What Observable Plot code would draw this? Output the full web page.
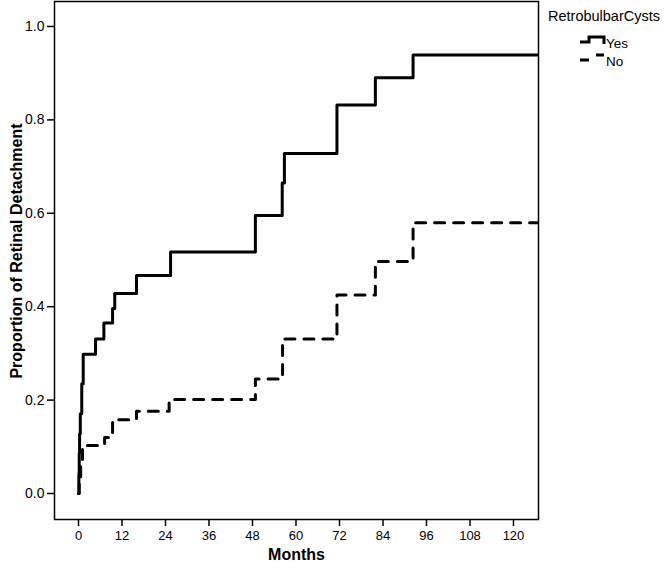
<!DOCTYPE html>
<html>
<head>
<meta charset="utf-8">
<script src="https://cdn.jsdelivr.net/npm/d3@7"></script>
<script src="https://cdn.jsdelivr.net/npm/@observablehq/plot@0.6"></script>
<style>
  html, body { margin: 0; padding: 0; background: #fff; }
  #chart svg { display: block; }
</style>
</head>
<body>
<div id="chart"></div>
<script>
// ---- Data ----
const yesMonths     = [0, 0.1, 0.2, 0.3, 0.5, 0.9, 1.3, 4.7, 7.0, 9.4, 10.0, 16.0, 25.4, 48.8, 56.2, 56.8, 71.3, 81.9, 92.3];
const yesProportion = [0, 0.043, 0.086, 0.128, 0.171, 0.235, 0.298, 0.331, 0.365, 0.396, 0.428, 0.467, 0.517, 0.595, 0.665, 0.728, 0.832, 0.890, 0.939];
const noMonths      = [0, 0.2, 0.6, 1.1, 7.2, 9.4, 16.0, 25.0, 48.8, 56.3, 71.3, 81.9, 92.3];
const noProportion  = [0, 0.034, 0.069, 0.103, 0.120, 0.158, 0.176, 0.201, 0.245, 0.331, 0.425, 0.497, 0.580];
const lastFollowUp  = 130;
const xTicks = [0, 12, 24, 36, 48, 60, 72, 84, 96, 108, 120];
const yTicks = [0, 0.2, 0.4, 0.6, 0.8, 1.0];
const groups = ["Yes", "No"];
const legendTitle = "RetrobulbarCysts";
const xLabel = "Months";
const yLabel = "Proportion of Retinal Detachment";

const toRows = (months, props) =>
  months.map((m, i) => ({month: m, p: props[i]}))
        .concat([{month: lastFollowUp, p: props[props.length - 1]}]);
const yesRows = toRows(yesMonths, yesProportion);
const noRows  = toRows(noMonths, noProportion);

const font = "'Liberation Sans', Arial, Helvetica, sans-serif";

const plot = Plot.plot({
  width: 664,
  height: 570,
  marginLeft: 54,
  marginRight: 126,
  marginTop: 1,
  marginBottom: 51,
  style: {fontFamily: font, fontSize: "13px", background: "#fff", color: "#000"},
  x: {domain: [-6.62, 126.9]},
  y: {domain: [-0.0557, 1.0535]},
  marks: [
    Plot.axisX({ticks: xTicks, tickSize: 7, tickPadding: 4, strokeWidth: 1.5, fontSize: 13, label: null}),
    Plot.axisY({ticks: yTicks, tickFormat: d3.format(".1f"), tickSize: 7, tickPadding: 3, strokeWidth: 1.5, fontSize: 14, label: null}),
    Plot.text([xLabel], {frameAnchor: "bottom", dy: 40, fontWeight: "bold", fontSize: 16}),
    Plot.line(noRows, {x: "month", y: "p", curve: "step-after", stroke: "black", strokeWidth: 3, strokeDasharray: "10,9", clip: true}),
    Plot.line(yesRows, {x: "month", y: "p", curve: "step-after", stroke: "black", strokeWidth: 3, clip: true}),
    Plot.frame({stroke: "black", strokeWidth: 1.5})
  ]
});

const svg = d3.select(plot);

// ---- Y axis title ----
svg.append("text")
  .attr("transform", "translate(16,251) rotate(-90)")
  .attr("text-anchor", "middle")
  .attr("dy", "0.35em")
  .attr("font-family", font)
  .attr("font-weight", "bold")
  .attr("font-size", 16)
  .attr("fill", "black")
  .text(yLabel);

// ---- Legend (drawn into the same SVG) ----
const lg = svg.append("g").attr("font-family", font).attr("fill", "black").attr("text-anchor", "start");
lg.append("text").attr("x", 548).attr("y", 21).attr("font-size", 14.5).text(legendTitle);
const symbols = {
  Yes: "M580,42H589V37H604V44",
  No:  "M580,60H589M596,55H604"
};
const entryY = [43, 61];
groups.forEach((g, i) => {
  lg.append("path").attr("d", symbols[g]).attr("fill", "none")
    .attr("stroke", "black").attr("stroke-width", 3);
  lg.append("text").attr("x", 606).attr("y", entryY[i]).attr("dy", "0.35em")
    .attr("font-size", 13.5).text(g);
});

document.getElementById("chart").appendChild(plot);
</script>
</body>
</html>
